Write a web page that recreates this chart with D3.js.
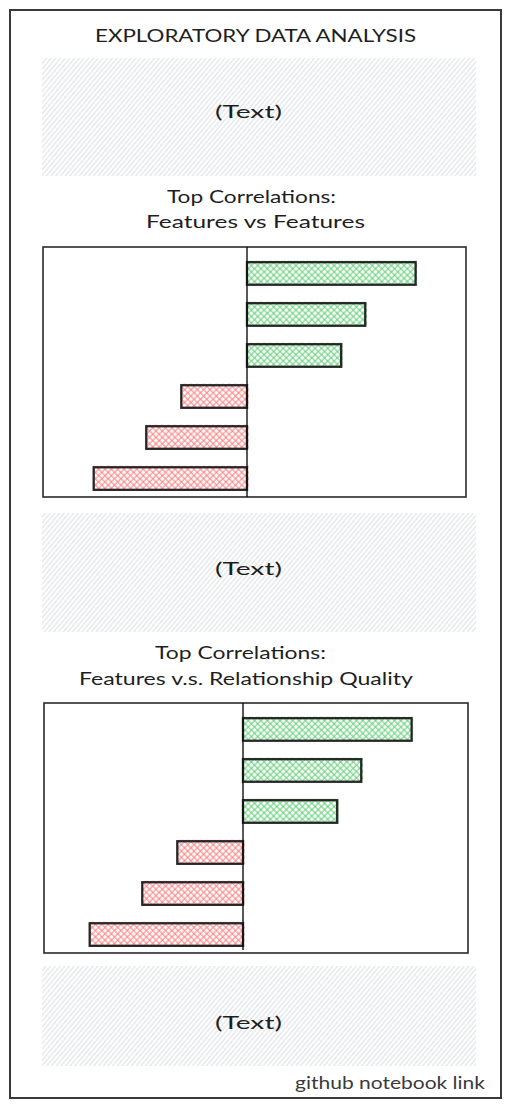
<!DOCTYPE html>
<html>
<head>
<meta charset="utf-8">
<script src="https://cdn.jsdelivr.net/npm/d3@7"></script>
<style>
  html, body { margin: 0; padding: 0; background: #ffffff; }
  svg { display: block; }
  text { font-family: "Lato", "Open Sans", sans-serif; fill: #1e1e1e; }
</style>
</head>
<body>
<div id="chart"></div>
<script>
// ---- data ----
const pageTitle = "EXPLORATORY DATA ANALYSIS";
const placeholderText = "(Text)";
const chart1Title = ["Top Correlations:", "Features vs Features"];
const chart2Title = ["Top Correlations:", "Features v.s. Relationship Quality"];
const linkText = "github notebook link";

const categories1 = ["Pair 1", "Pair 2", "Pair 3", "Pair 4", "Pair 5", "Pair 6"];
const values1 = [0.77, 0.54, 0.43, -0.30, -0.46, -0.70];

const categories2 = ["Feature 1", "Feature 2", "Feature 3", "Feature 4", "Feature 5", "Feature 6"];
const values2 = [0.77, 0.54, 0.43, -0.30, -0.46, -0.70];

// ---- drawing ----
const W = 511, H = 1110;
const svg = d3.select("#chart").append("svg").attr("width", W).attr("height", H);
const defs = svg.append("defs");

// light gray hachure for text boxes
const hp = defs.append("pattern").attr("id", "hachure")
  .attr("patternUnits", "userSpaceOnUse").attr("width", 3.6).attr("height", 10)
  .attr("patternTransform", "rotate(40)");
hp.append("line").attr("x1", 1).attr("y1", 0).attr("x2", 1).attr("y2", 10)
  .attr("stroke", "#d4d7db").attr("stroke-width", 0.9);

function crossHatch(id, color) {
  const p = defs.append("pattern").attr("id", id)
    .attr("patternUnits", "userSpaceOnUse").attr("width", 4.5).attr("height", 4.5)
    .attr("patternTransform", "rotate(45)");
  p.append("line").attr("x1", 1).attr("y1", 0).attr("x2", 1).attr("y2", 4.5)
    .attr("stroke", color).attr("stroke-width", 1);
  p.append("line").attr("x1", 0).attr("y1", 1).attr("x2", 4.5).attr("y2", 1)
    .attr("stroke", color).attr("stroke-width", 1);
}
crossHatch("xgreen", "#5fcf73");
crossHatch("xred", "#ff7b7b");

// outer frame
svg.append("rect").attr("x", 10).attr("y", 10).attr("width", 491).attr("height", 1088)
  .attr("fill", "none").attr("stroke", "#3a3a3a").attr("stroke-width", 2);

function txt(s, cx, y, size, len, color) {
  const t = svg.append("text").attr("x", cx).attr("y", y).attr("text-anchor", "middle")
    .attr("font-size", size).text(s);
  if (len) t.attr("textLength", len).attr("lengthAdjust", "spacingAndGlyphs");
  if (color) t.style("fill", color);
  return t;
}

txt(pageTitle, 255.5, 42, 17, 321);

function textBox(x0, y0, x1, y1, baseline) {
  svg.append("rect").attr("x", x0).attr("y", y0).attr("width", x1 - x0).attr("height", y1 - y0)
    .attr("fill", "url(#hachure)");
  txt(placeholderText, 248.5, baseline, 18, 67);
}
textBox(42, 58, 476, 176, 118);
textBox(42, 513, 476, 632, 575);
textBox(42, 966, 476, 1066, 1029);

txt(chart1Title[0], 251.5, 203, 18, 169);
txt(chart1Title[1], 255.5, 228, 18, 219);
txt(chart2Title[0], 240.5, 659, 18, 171);
txt(chart2Title[1], 246, 685, 18, 334);

txt(linkText, 390, 1089, 17, 190, "#3a3a3a");

function barChart(cats, vals, fx0, fy0, fx1, fy1, zeroX, lineBottom) {
  const x = d3.scaleLinear()
    .domain([-(zeroX - fx0) / 219, (fx1 - zeroX) / 219])
    .range([fx0, fx1]);
  const y = d3.scaleBand().domain(cats).range([fy0, fy0 + 258])
    .paddingInner(0.45).paddingOuter(0.37);
  const g = svg.append("g");
  g.append("rect").attr("x", fx0).attr("y", fy0).attr("width", fx1 - fx0).attr("height", fy1 - fy0)
    .attr("fill", "none").attr("stroke", "#2a2a2a").attr("stroke-width", 1.6);
  const data = cats.map((c, i) => ({ c, v: vals[i] }));
  // fills (slightly larger than outline, like a sketch)
  g.selectAll("rect.fill").data(data).join("rect").attr("class", "fill")
    .attr("x", d => Math.min(x(0), x(d.v)))
    .attr("y", d => y(d.c) - 1.5)
    .attr("width", d => Math.abs(x(d.v) - x(0)) + 1.5)
    .attr("height", y.bandwidth() + 2)
    .attr("fill", d => d.v >= 0 ? "url(#xgreen)" : "url(#xred)");
  g.selectAll("rect.bar").data(data).join("rect").attr("class", "bar")
    .attr("x", d => Math.min(x(0), x(d.v)))
    .attr("y", d => y(d.c))
    .attr("width", d => Math.abs(x(d.v) - x(0)))
    .attr("height", y.bandwidth())
    .attr("fill", "none").attr("stroke", "#262626").attr("stroke-width", 2.3);
  g.append("line").attr("x1", x(0)).attr("x2", x(0)).attr("y1", fy0).attr("y2", lineBottom)
    .attr("stroke", "#111").attr("stroke-width", 1.4);
}

barChart(categories1, values1, 43, 247, 466, 497, 247, 497);
barChart(categories2, values2, 44, 703, 468, 953, 243, 950);
</script>
</body>
</html>
